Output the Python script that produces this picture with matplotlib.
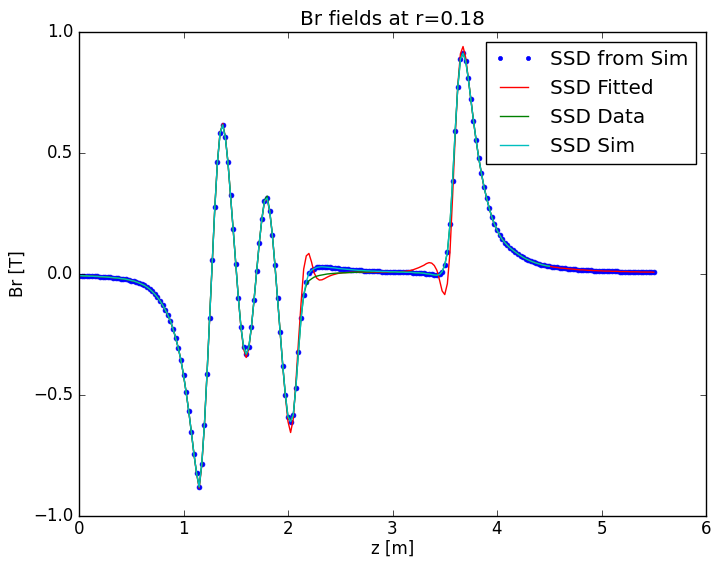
import numpy as np
import matplotlib
matplotlib.use('Agg')
import matplotlib.pyplot as plt

# sample positions along z [m] (step 0.025)
z = np.linspace(0.0, 5.5, 221)

# Br from simulation (dots + cyan line)
br_sim = [
    -0.007, -0.007, -0.008, -0.008, -0.009, -0.009, -0.010, -0.010, -0.011, -0.011,
    -0.012, -0.013, -0.014, -0.015, -0.016, -0.017, -0.019, -0.020, -0.022, -0.024,
    -0.027, -0.029, -0.033, -0.037, -0.042, -0.047, -0.054, -0.062, -0.072, -0.083,
    -0.096, -0.111, -0.128, -0.148, -0.169, -0.194, -0.227, -0.264, -0.306, -0.355,
    -0.417, -0.488, -0.566, -0.653, -0.744, -0.822, -0.880, -0.785, -0.624, -0.413,
    -0.180, 0.058, 0.277, 0.463, 0.583, 0.616, 0.566, 0.463, 0.326, 0.186,
    0.041, -0.099, -0.219, -0.302, -0.331, -0.302, -0.219, -0.107, 0.012, 0.128,
    0.227, 0.302, 0.314, 0.260, 0.163, 0.037, -0.100, -0.241, -0.379, -0.500,
    -0.590, -0.610, -0.583, -0.470, -0.321, -0.183, -0.087, -0.032, 0.003, 0.015,
    0.022, 0.027, 0.029, 0.030, 0.029, 0.028, 0.027, 0.026, 0.025, 0.023,
    0.022, 0.021, 0.020, 0.019, 0.018, 0.017, 0.016, 0.015, 0.015, 0.014,
    0.013, 0.013, 0.012, 0.012, 0.011, 0.011, 0.010, 0.010, 0.010, 0.009,
    0.009, 0.009, 0.008, 0.008, 0.008, 0.007, 0.007, 0.007, 0.006, 0.005,
    0.005, 0.004, 0.003, 0.001, 0.000, -0.002, -0.004, -0.005, -0.002, 0.010,
    0.037, 0.090, 0.205, 0.385, 0.592, 0.773, 0.887, 0.912, 0.881, 0.809,
    0.722, 0.633, 0.553, 0.480, 0.418, 0.361, 0.315, 0.273, 0.236, 0.206,
    0.182, 0.161, 0.143, 0.130, 0.118, 0.108, 0.099, 0.091, 0.083, 0.076,
    0.069, 0.063, 0.058, 0.053, 0.049, 0.045, 0.042, 0.039, 0.036, 0.034,
    0.032, 0.030, 0.028, 0.027, 0.025, 0.024, 0.023, 0.022, 0.021, 0.020,
    0.019, 0.018, 0.017, 0.017, 0.016, 0.015, 0.015, 0.014, 0.014, 0.013,
    0.013, 0.012, 0.012, 0.012, 0.011, 0.011, 0.011, 0.010, 0.010, 0.010,
    0.010, 0.009, 0.009, 0.009, 0.009, 0.008, 0.008, 0.008, 0.008, 0.008,
    0.007,
]

# fitted SSD field
br_fit = [
    -0.007, -0.007, -0.008, -0.008, -0.009, -0.009, -0.010, -0.010, -0.011, -0.011,
    -0.012, -0.013, -0.014, -0.015, -0.016, -0.017, -0.019, -0.020, -0.022, -0.024,
    -0.027, -0.029, -0.033, -0.037, -0.042, -0.047, -0.054, -0.062, -0.072, -0.083,
    -0.096, -0.111, -0.128, -0.148, -0.169, -0.194, -0.227, -0.264, -0.306, -0.355,
    -0.417, -0.488, -0.566, -0.653, -0.744, -0.824, -0.885, -0.790, -0.624, -0.413,
    -0.180, 0.058, 0.277, 0.463, 0.585, 0.622, 0.568, 0.463, 0.326, 0.186,
    0.041, -0.099, -0.222, -0.310, -0.345, -0.308, -0.219, -0.107, 0.012, 0.128,
    0.227, 0.300, 0.310, 0.258, 0.163, 0.037, -0.100, -0.241, -0.380, -0.505,
    -0.610, -0.655, -0.600, -0.450, -0.280, -0.120, 0.020, 0.075, 0.085, 0.050,
    0.005, -0.017, -0.025, -0.024, -0.019, -0.013, -0.008, -0.004, -0.001, 0.002,
    0.004, 0.005, 0.006, 0.006, 0.007, 0.007, 0.007, 0.008, 0.008, 0.008,
    0.008, 0.008, 0.008, 0.008, 0.008, 0.008, 0.008, 0.008, 0.008, 0.008,
    0.009, 0.009, 0.009, 0.009, 0.010, 0.011, 0.013, 0.015, 0.018, 0.022,
    0.026, 0.031, 0.036, 0.043, 0.047, 0.045, 0.035, 0.015, -0.025, -0.070,
    -0.085, -0.040, 0.090, 0.320, 0.570, 0.780, 0.910, 0.940, 0.895, 0.810,
    0.722, 0.633, 0.553, 0.480, 0.418, 0.361, 0.315, 0.273, 0.236, 0.206,
    0.182, 0.161, 0.143, 0.130, 0.118, 0.108, 0.099, 0.091, 0.083, 0.076,
    0.069, 0.063, 0.058, 0.053, 0.049, 0.045, 0.042, 0.039, 0.036, 0.034,
    0.032, 0.030, 0.028, 0.027, 0.025, 0.024, 0.023, 0.022, 0.021, 0.020,
    0.019, 0.018, 0.017, 0.017, 0.016, 0.015, 0.015, 0.014, 0.014, 0.013,
    0.013, 0.012, 0.012, 0.012, 0.011, 0.011, 0.011, 0.010, 0.010, 0.010,
    0.010, 0.009, 0.009, 0.009, 0.009, 0.008, 0.008, 0.008, 0.008, 0.008,
    0.007,
]

# measured SSD data (0 .. 4.5 m)
br_data = [
    -0.007, -0.007, -0.008, -0.008, -0.009, -0.009, -0.010, -0.010, -0.011, -0.011,
    -0.012, -0.013, -0.014, -0.015, -0.016, -0.017, -0.019, -0.020, -0.022, -0.024,
    -0.027, -0.029, -0.033, -0.037, -0.042, -0.047, -0.054, -0.062, -0.072, -0.083,
    -0.096, -0.111, -0.128, -0.148, -0.169, -0.194, -0.227, -0.264, -0.306, -0.355,
    -0.417, -0.488, -0.566, -0.653, -0.744, -0.822, -0.880, -0.785, -0.624, -0.413,
    -0.180, 0.058, 0.277, 0.463, 0.583, 0.616, 0.566, 0.463, 0.326, 0.186,
    0.041, -0.099, -0.219, -0.302, -0.331, -0.302, -0.219, -0.107, 0.012, 0.128,
    0.227, 0.305, 0.322, 0.262, 0.163, 0.037, -0.100, -0.241, -0.379, -0.500,
    -0.590, -0.605, -0.583, -0.470, -0.321, -0.183, -0.087, -0.045, -0.028, -0.020,
    -0.013, -0.009, -0.006, -0.004, -0.002, 0.000, 0.001, 0.002, 0.003, 0.004,
    0.004, 0.005, 0.005, 0.006, 0.006, 0.007, 0.007, 0.008, 0.008, 0.009,
    0.009, 0.009, 0.009, 0.010, 0.010, 0.010, 0.010, 0.010, 0.010, 0.009,
    0.009, 0.009, 0.008, 0.008, 0.008, 0.007, 0.007, 0.007, 0.006, 0.005,
    0.005, 0.004, 0.003, 0.001, 0.000, -0.002, -0.004, -0.005, -0.002, 0.010,
    0.037, 0.090, 0.205, 0.385, 0.592, 0.773, 0.887, 0.912, 0.881, 0.809,
    0.722, 0.633, 0.553, 0.480, 0.418, 0.361, 0.315, 0.273, 0.236, 0.206,
    0.182, 0.161, 0.143, 0.130, 0.118, 0.108, 0.099, 0.091, 0.083, 0.076,
    0.069, 0.063, 0.058, 0.053, 0.049, 0.045, 0.042, 0.039, 0.036, 0.034,
    0.032,
]

n_line = len(br_data)  # sim/data lines stop at 4.5 m

plt.style.use('classic')
fig = plt.figure(figsize=(7.11, 5.61), dpi=100)
ax = fig.add_axes([79 / 711, 1 - 516 / 561, 627 / 711, 484 / 561])

ax.plot(z, br_sim, 'b.', markersize=7, label='SSD from Sim')
ax.plot(z, br_fit, 'r-', label='SSD Fitted')
ax.plot(z[:n_line], br_data, 'g-', label='SSD Data')
ax.plot(z[:n_line], br_sim[:n_line], 'c-', label='SSD Sim')

ax.set_xlim(0, 6)
ax.set_ylim(-1.0, 1.0)
ax.set_xticks([0, 1, 2, 3, 4, 5, 6])
ax.set_yticks([-1.0, -0.5, 0.0, 0.5, 1.0])
ax.tick_params(axis='x', pad=3)
ax.set_title('Br fields at r=0.18')
ax.set_xlabel('z [m]', labelpad=1)
ax.set_ylabel('Br [T]')
ax.legend(loc='upper right', markerscale=0.85)

fig.savefig('out.png', dpi=100)
